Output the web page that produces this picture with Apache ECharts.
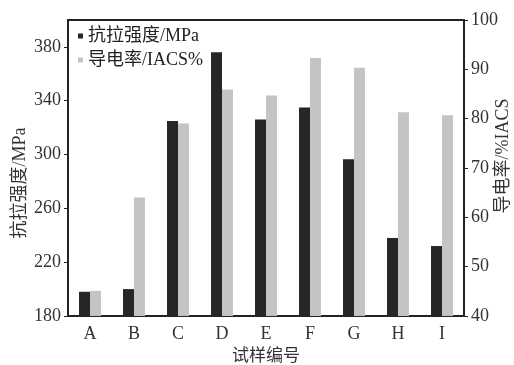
<!DOCTYPE html>
<html>
<head>
<meta charset="utf-8">
<script src="https://cdn.jsdelivr.net/npm/echarts@6/dist/echarts.min.js"></script>
<style>html,body{margin:0;padding:0;background:#fff}#c{width:514px;height:365px}</style>
</head>
<body>
<div id="c"></div>
<script>
var categories = ['A', 'B', 'C', 'D', 'E', 'F', 'G', 'H', 'I'];
var strength = [198, 200, 325, 376, 326, 335, 296.5, 238, 232];
var conductivity = [45.1, 64.0, 79.0, 85.9, 84.7, 92.3, 90.3, 81.3, 80.7];
var leftTicks = [180, 220, 260, 300, 340, 380];
var rightTicks = [40, 50, 60, 70, 80, 90, 100];
var seriesNames = ['抗拉强度/MPa', '导电率/IACS%'];
var axisNames = ['抗拉强度/MPa', '导电率/%IACS', '试样编号'];

var FONT = '"Liberation Serif", "Times New Roman", "Noto Sans CJK SC", serif';
var chart = echarts.init(document.getElementById('c'), null, {renderer: 'canvas'});
chart.setOption({
  animation: false,
  backgroundColor: '#fff',
  textStyle: {fontFamily: FONT},
  grid: {left: 68, right: 50, top: 20, bottom: 49, show: true, borderColor: '#222', borderWidth: 2, outerBoundsMode: 'none', containLabel: false},
  legend: {
    orient: 'vertical', left: 73, top: 22, itemWidth: 5, itemHeight: 5, itemGap: 6,
    icon: 'rect',
    textStyle: {fontFamily: FONT, fontSize: 18, color: '#222'},
    data: seriesNames
  },
  xAxis: {
    type: 'category', data: categories, boundaryGap: true,
    axisLine: {show: true, lineStyle: {color: '#222', width: 2}},
    axisTick: {show: false},
    axisLabel: {fontFamily: FONT, fontSize: 18, color: '#333', margin: 9},
    name: axisNames[2], nameLocation: 'middle', nameGap: 30,
    nameTextStyle: {fontFamily: FONT, fontSize: 17, color: '#333'}
  },
  yAxis: [{
    type: 'value', min: 180, max: 400, interval: 20, position: 'left',
    splitLine: {show: false},
    axisLine: {show: true, lineStyle: {color: '#222', width: 2}},
    axisTick: {show: true, inside: false, length: 4, customValues: leftTicks, lineStyle: {color: '#222'}},
    axisLabel: {fontFamily: FONT, fontSize: 18, color: '#333', margin: 7, customValues: leftTicks},
    name: axisNames[0], nameLocation: 'middle', nameGap: 39, nameRotate: 90, nameMoveOverlap: false,
    nameTextStyle: {fontFamily: FONT, fontSize: 18, color: '#333', padding: [0, 30, 0, 0]}
  }, {
    type: 'value', min: 40, max: 100, interval: 10, position: 'right',
    splitLine: {show: false},
    axisLine: {show: true, lineStyle: {color: '#222', width: 2}},
    axisTick: {show: true, inside: false, length: 4, lineStyle: {color: '#222'}},
    axisLabel: {fontFamily: FONT, fontSize: 18, color: '#333', margin: 7, customValues: rightTicks},
    name: axisNames[1], nameLocation: 'middle', nameGap: 30, nameRotate: 90, nameMoveOverlap: false,
    nameTextStyle: {fontFamily: FONT, fontSize: 18, color: '#333', padding: [0, 0, 0, 24]}
  }],
  series: [{
    name: seriesNames[0], type: 'bar', yAxisIndex: 0, data: strength,
    barWidth: 11, barGap: '0%',
    itemStyle: {color: '#262626'}
  }, {
    name: seriesNames[1], type: 'bar', yAxisIndex: 1, data: conductivity,
    barWidth: 11, barGap: '0%',
    itemStyle: {color: '#c4c4c4'}
  }]
});
</script>
</body>
</html>
